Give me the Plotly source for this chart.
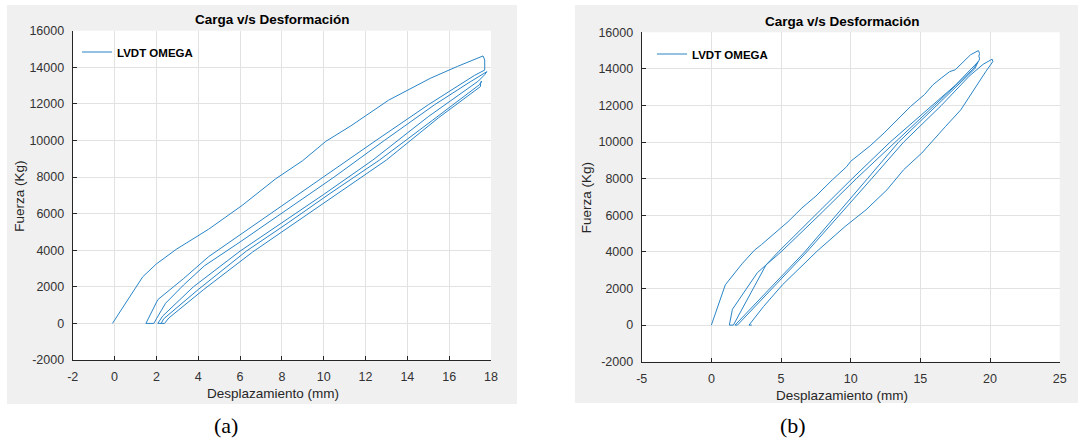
import plotly.graph_objects as go

W, H = 1078, 442

# ---------------- data (a) ----------------
a_load1_x = [-0.1, 1.35, 2.0, 2.95, 4.5, 6.1, 7.7, 9.0, 10.1, 11.3, 13.1, 15.1, 16.4, 17.62, 17.7, 17.7]
a_load1_y = [0, 2550, 3250, 4050, 5150, 6450, 7900, 8900, 9950, 10800, 12200, 13400, 14050, 14620, 14400, 13850]
a_unload1_x = [17.2, 15.0, 12.5, 10.0, 7.5, 6.0, 4.5, 3.3, 2.07, 1.5, 1.88]
a_unload1_y = [13550, 11950, 10000, 8000, 6000, 4800, 3650, 2450, 1300, 0, 0]
a_reload2_x = [2.0, 2.44, 3.3, 4.3, 6.0, 8.1, 10.5, 12.9, 15.3, 17.0, 17.8, 17.7]
a_reload2_y = [250, 1100, 2100, 3150, 4450, 6100, 8000, 10000, 11950, 13200, 13760, 13600]
a_unload2_x = [17.4, 15.0, 12.35, 10.0, 8.0, 6.0, 3.77, 2.3, 2.07, 2.23]
a_unload2_y = [13250, 11300, 8930, 7050, 5500, 3950, 2000, 400, 0, 0]
a_reload3_x = [2.35, 4.0, 6.3, 8.3, 10.3, 12.67, 15.2, 17.45, 17.55, 17.5]
a_reload3_y = [250, 1850, 3950, 5500, 7100, 8930, 11100, 13050, 13250, 13100]
a_unload3_x = [17.5, 15.5, 13.0, 10.6, 8.6, 6.6, 4.26, 2.6, 2.39, 2.2]
a_unload3_y = [12950, 11250, 8930, 7050, 5500, 3900, 1850, 300, 0, 0]

# ---------------- data (b) ----------------
b_load1_x = [0, 1.0, 2.2, 3.1, 3.6, 4.5, 5.5, 6.5, 7.5, 8.7, 9.7, 10.0, 11.4, 12.4, 13.1, 14.3, 15.3, 15.9,
             16.5, 17.1, 17.5, 18.0, 18.6, 19.16, 19.25, 19.2, 19.25, 19.2]
b_load1_y = [0, 2200, 3350, 4100, 4400, 5000, 5650, 6400, 7050, 7950, 8650, 8950, 9800, 10500, 11030, 11950,
             12600, 13130, 13500, 13850, 13950, 14330, 14770, 15000, 14850, 14700, 14550, 14450]
b_unload1_x = [18.8, 16.0, 13.2, 10.4, 7.73, 5.0, 3.92, 1.58, 1.29]
b_unload1_y = [14000, 12000, 10000, 8000, 6000, 4000, 3284, 0, 0]
b_reload2_x = [1.51, 3.3, 3.92, 4.8, 7.45, 10.1, 12.83, 15.8, 17.5, 18.9, 19.15]
b_reload2_y = [863, 2863, 3284, 4000, 6000, 8000, 10000, 12000, 13100, 14200, 14400]
b_unload2_x = [18.9, 16.2, 13.44, 11.2, 8.95, 6.7, 1.7, 1.87]
b_unload2_y = [14000, 12000, 10000, 8000, 6000, 4000, 0, 0]
b_reload3_x = [6.85, 9.2, 11.5, 13.8, 16.5, 18.5, 19.5, 20.15, 20.2]
b_reload3_y = [4000, 6000, 8000, 10000, 12000, 13600, 14250, 14530, 14400]
b_unload3_x = [19.7, 18.7, 17.9, 16.8, 15.1, 13.8, 12.6, 11.1, 9.6, 7.6, 5.1, 3.75, 2.7, 2.9]
b_unload3_y = [13860, 12670, 11760, 10850, 9400, 8490, 7390, 6300, 5390, 4050, 2200, 1020, 0, 0]

a_x = a_load1_x + a_unload1_x + a_reload2_x + a_unload2_x + a_reload3_x + a_unload3_x
a_y = a_load1_y + a_unload1_y + a_reload2_y + a_unload2_y + a_reload3_y + a_unload3_y
b_x = b_load1_x + b_unload1_x + b_reload2_x + b_unload2_x + b_reload3_x + b_unload3_x
b_y = b_load1_y + b_unload1_y + b_reload2_y + b_unload2_y + b_reload3_y + b_unload3_y

a_xticks = list(range(-2, 19, 2))
b_xticks = list(range(-5, 26, 5))
yticks = list(range(-2000, 16001, 2000))

title_text = "Carga v/s Desformación"
xlabel = "Desplazamiento (mm)"
ylabel = "Fuerza (Kg)"
legend_name = "<b>LVDT OMEGA</b>"
captions = ["(a)", "(b)"]

LINE = "#2a84c6"
AX = "#262626"
GRID = "#e2e2e2"
FONT = "Liberation Sans, Arial, sans-serif"

def px(x):
    return x / W

def py(y):
    return 1 - y / H

fig = go.Figure()
fig.add_trace(go.Scatter(x=a_x, y=a_y, mode="lines", line=dict(color=LINE, width=1),
                         name=legend_name, xaxis="x", yaxis="y", legend="legend"))
fig.add_trace(go.Scatter(x=b_x, y=b_y, mode="lines", line=dict(color=LINE, width=1),
                         name=legend_name, xaxis="x2", yaxis="y2", legend="legend2"))

common_axis = dict(showgrid=True, gridcolor=GRID, gridwidth=1, zeroline=False, showline=True,
                   linecolor=AX, linewidth=1, ticks="inside", ticklen=4, tickcolor=AX,
                   tickfont=dict(family=FONT, size=12.5, color="#333333"), mirror=False,
                   automargin=False)

def labels(vals):
    return [str(v) for v in vals]

fig.update_layout(
    width=W, height=H, margin=dict(l=0, r=0, t=0, b=0, autoexpand=False),
    paper_bgcolor="white", plot_bgcolor="white",
    xaxis=dict(domain=[px(72.7), px(491)], range=[-2, 18], tickvals=a_xticks, ticktext=labels(a_xticks),
               anchor="y", ticklabelstandoff=5, **common_axis),
    yaxis=dict(domain=[py(360), py(30.7)], range=[-2000, 16000], tickvals=yticks, ticktext=labels(yticks),
               anchor="x", ticklabelstandoff=5, **common_axis),
    xaxis2=dict(domain=[px(641.7), px(1059.7)], range=[-5, 25], tickvals=b_xticks, ticktext=labels(b_xticks),
                anchor="y2", ticklabelstandoff=5, **common_axis),
    yaxis2=dict(domain=[py(361.7), py(32.3)], range=[-2000, 16000], tickvals=yticks, ticktext=labels(yticks),
                anchor="x2", ticklabelstandoff=5, **common_axis),
    legend=dict(x=px(77), y=py(52), xanchor="left", yanchor="middle", bgcolor="rgba(0,0,0,0)",
                borderwidth=0, font=dict(family=FONT, size=11.5, color="#000000")),
    legend2=dict(x=px(652), y=py(54), xanchor="left", yanchor="middle", bgcolor="rgba(0,0,0,0)",
                 borderwidth=0, font=dict(family=FONT, size=11.5, color="#000000")),
    showlegend=True,
)

# grey figure panels and white plot areas
for (x0, x1, y0, y1) in [(7, 517, 5, 404), (575, 1078, 5, 403)]:
    fig.add_shape(type="rect", xref="paper", yref="paper", x0=px(x0), x1=px(x1), y0=py(y1), y1=py(y0),
                  fillcolor="#f0f0f0", line=dict(width=0), layer="below")
for (x0, x1, y0, y1) in [(72.7, 491, 30.7, 360), (641.7, 1059.7, 32.3, 361.7)]:
    fig.add_shape(type="rect", xref="paper", yref="paper", x0=px(x0), x1=px(x1), y0=py(y1), y1=py(y0),
                  fillcolor="white", line=dict(width=0), layer="below")

def ann(text, x, y, size, color="#262626", bold=False, angle=0, family=FONT):
    fig.add_annotation(text=f"<b>{text}</b>" if bold else text, x=px(x), y=py(y), xref="paper", yref="paper",
                       xanchor="center", yanchor="middle", showarrow=False, textangle=angle,
                       font=dict(family=family, size=size, color=color))

ann(title_text, 273, 19.5, 13.5, color="#000000", bold=True)
ann(title_text, 842, 21, 13.5, color="#000000", bold=True)
ann(xlabel, 273, 393, 13.5)
ann(xlabel, 842, 395, 13.5)
ann(ylabel, 18.7, 196, 13.5, angle=-90)
ann(ylabel, 586.7, 197.5, 13.5, angle=-90)
ann(captions[0], 225.7, 425, 22, color="#000000", family="Liberation Serif, Times New Roman, serif")
ann(captions[1], 792.7, 425, 22, color="#000000", family="Liberation Serif, Times New Roman, serif")

fig.write_html("out.html", config={"displayModeBar": False},
               post_script="document.body.style.margin='0';document.body.style.overflow='hidden';")
